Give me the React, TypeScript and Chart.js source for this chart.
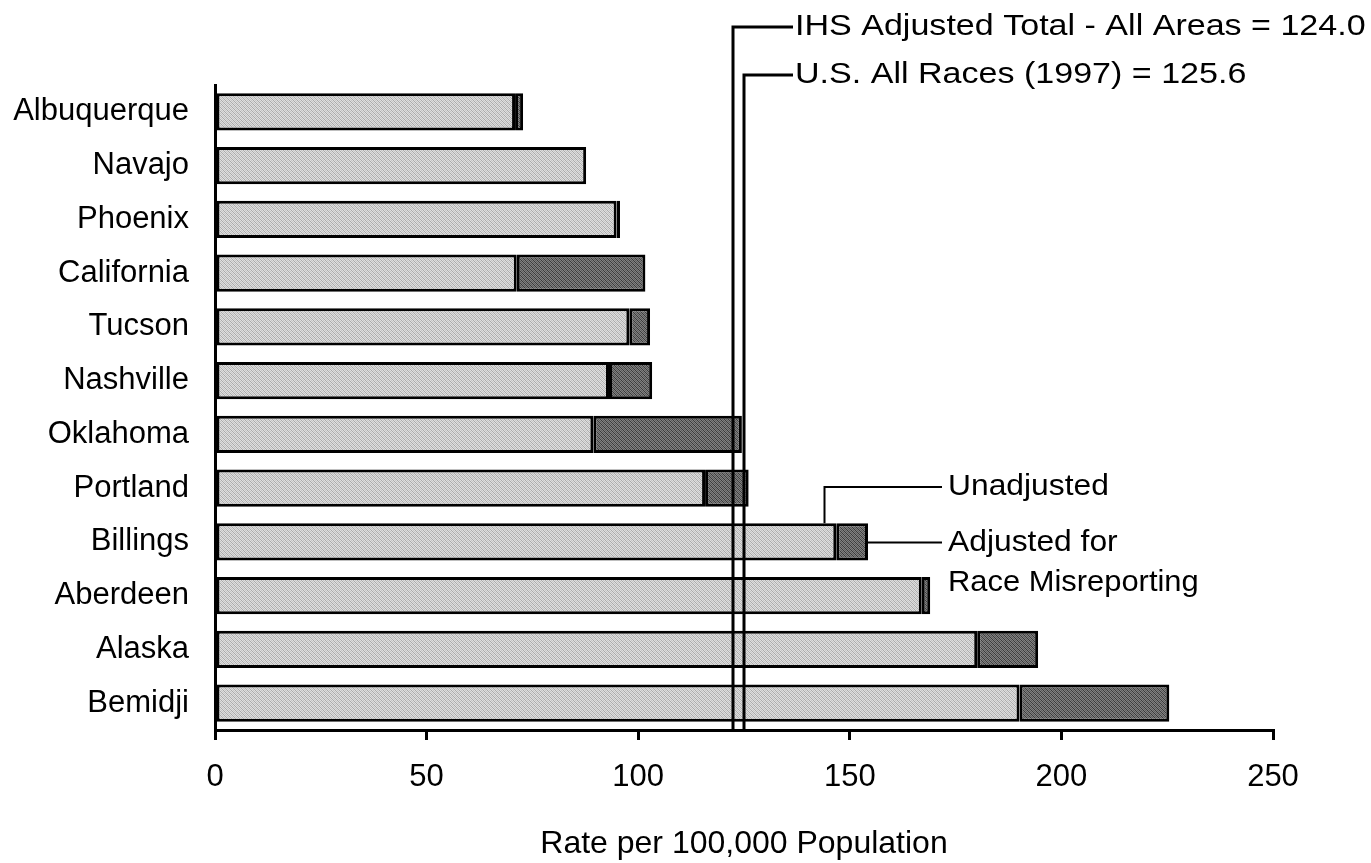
import React, { useEffect, useRef } from "react";
import { Chart, registerables } from "chart.js";

Chart.register(...registerables);

const categories = [
  "Albuquerque", "Navajo", "Phoenix", "California", "Tucson", "Nashville",
  "Oklahoma", "Portland", "Billings", "Aberdeen", "Alaska", "Bemidji",
];
const unadjusted = [70.9, 87.7, 94.9, 71.3, 97.9, 93.1, 89.4, 115.8, 146.8, 167.0, 180.1, 190.1];
const adjustedTotal = [72.8, 87.7, 95.7, 101.7, 102.8, 103.3, 124.5, 126.1, 154.3, 169.0, 194.5, 225.5];
const adjustment = adjustedTotal.map((t, i) => Math.max(0, +(t - unadjusted[i]).toFixed(1)));

const xTicks = [0, 50, 100, 150, 200, 250];
const refLineValues = [122.4, 125.1];
const refLineLabels = ["IHS Adjusted Total - All Areas = 124.0", "U.S. All Races (1997) = 125.6"];
const axisTitle = "Rate per 100,000 Population";
const calloutCategory = "Billings";
const unadjustedCalloutValue = 143.8;

const FONT = "'Liberation Sans', Arial, Helvetica, sans-serif";

function makePattern(c1: string, c2: string, c3: string) {
  const c = document.createElement("canvas");
  c.width = 4;
  c.height = 4;
  const g = c.getContext("2d")!;
  const map = [
    [0, 1, 0, 2],
    [2, 0, 1, 0],
    [0, 2, 0, 1],
    [1, 0, 2, 0],
  ];
  const cols = [c1, c2, c3];
  for (let y = 0; y < 4; y++)
    for (let x = 0; x < 4; x++) {
      g.fillStyle = cols[map[y][x]];
      g.fillRect(x, y, 1, 1);
    }
  return g.createPattern(c, "repeat")!;
}

function stretchedText(ctx: CanvasRenderingContext2D, text: string, x: number, y: number, size: number, sx: number) {
  ctx.save();
  ctx.font = `${size}px ${FONT}`;
  ctx.fillStyle = "#000";
  ctx.textAlign = "left";
  ctx.textBaseline = "middle";
  ctx.translate(x, y);
  ctx.scale(sx, 1);
  ctx.fillText(text, 0, 0);
  ctx.restore();
}

const annotationPlugin = {
  id: "annotations",
  afterDatasetsDraw(chart: any) {
    const ctx: CanvasRenderingContext2D = chart.ctx;
    const xs = chart.scales.x;
    const ys = chart.scales.y;
    const area = chart.chartArea;
    ctx.save();
    ctx.strokeStyle = "#000";
    ctx.lineWidth = 3;
    const labelYs = [27, 75];
    const labelX = 795;
    refLineValues.forEach((v, i) => {
      const x = Math.round(xs.getPixelForValue(v));
      ctx.beginPath();
      ctx.moveTo(x, area.bottom);
      ctx.lineTo(x, labelYs[i]);
      ctx.lineTo(labelX - 2, labelYs[i]);
      ctx.stroke();
      stretchedText(ctx, refLineLabels[i], labelX, labelYs[i], 30, 1.135);
    });

    // callouts on Billings bar
    const idx = categories.indexOf(calloutCategory);
    const meta = chart.getDatasetMeta(1);
    const bar: any = meta.data[idx];
    const barHalf = bar.height / 2;
    const yc = ys.getPixelForValue(idx);
    ctx.lineWidth = 2;
    const ux = Math.round(xs.getPixelForValue(unadjustedCalloutValue)) + 0.5;
    const uy = 487;
    ctx.beginPath();
    ctx.moveTo(ux, yc - barHalf);
    ctx.lineTo(ux, uy);
    ctx.lineTo(942, uy);
    ctx.stroke();
    stretchedText(ctx, "Unadjusted", 948, uy, 30, 1.06);

    const ax = xs.getPixelForValue(adjustedTotal[idx]);
    ctx.beginPath();
    ctx.moveTo(ax, Math.round(yc) + 0.5);
    ctx.lineTo(942, Math.round(yc) + 0.5);
    ctx.stroke();
    stretchedText(ctx, "Adjusted for", 948, 543, 30, 1.06);
    stretchedText(ctx, "Race Misreporting", 948, 583, 30, 1.03);
    ctx.restore();
  },
};

export default function App() {
  const ref = useRef<HTMLCanvasElement | null>(null);
  useEffect(() => {
    if (!ref.current) return;
    const lightPat = makePattern("#dedede", "#aaaaaa", "#c4c4c4");
    const darkPat = makePattern("#808080", "#3a3a3a", "#5c5c5c");
    const chart = new Chart(ref.current, {
      type: "bar",
      data: {
        labels: categories,
        datasets: [
          {
            label: "Unadjusted",
            data: unadjusted,
            backgroundColor: lightPat as any,
            borderColor: "#000",
            borderWidth: 3,
            borderSkipped: false,
            barPercentage: 0.69,
            categoryPercentage: 1,
          },
          {
            label: "Adjusted for Race Misreporting",
            data: adjustment,
            backgroundColor: darkPat as any,
            borderColor: "#000",
            borderWidth: 3,
            borderSkipped: false,
            barPercentage: 0.69,
            categoryPercentage: 1,
          },
        ],
      },
      options: {
        indexAxis: "y",
        responsive: false,
        animation: false,
        layout: { padding: { left: 0, right: 98, top: 85, bottom: 0 } },
        plugins: { legend: { display: false }, tooltip: { enabled: false } },
        scales: {
          x: {
            stacked: true,
            min: 0,
            max: 250,
            afterBuildTicks: (s: any) => {
              s.ticks = xTicks.map((v) => ({ value: v }));
            },
            afterFit: (s: any) => {
              s.height = 133;
            },
            grid: {
              display: true,
              drawOnChartArea: false,
              drawTicks: true,
              tickLength: 10,
              color: "#000",
              lineWidth: 3,
            },
            border: { display: true, color: "#000", width: 3 },
            ticks: {
              color: "#000",
              font: { family: FONT, size: 31 },
              padding: 19,
              maxRotation: 0,
            },
            title: {
              display: true,
              text: axisTitle,
              color: "#000",
              font: { family: FONT, size: 32 },
              padding: { top: 0, bottom: 0 },
            },
          },
          y: {
            stacked: true,
            afterFit: (s: any) => {
              s.width = 215;
            },
            grid: { display: false, drawTicks: false },
            border: { display: true, color: "#000", width: 3 },
            ticks: {
              color: "#000",
              font: { family: FONT, size: 31 },
              padding: 26,
            },
          },
        },
      },
      plugins: [annotationPlugin],
    });
    return () => chart.destroy();
  }, []);
  return (
    <div style={{ position: "absolute", left: 0, top: 0, width: 1371, height: 863, background: "#fff" }}>
      <canvas ref={ref} width={1371} height={863} style={{ display: "block" }} />
    </div>
  );
}
